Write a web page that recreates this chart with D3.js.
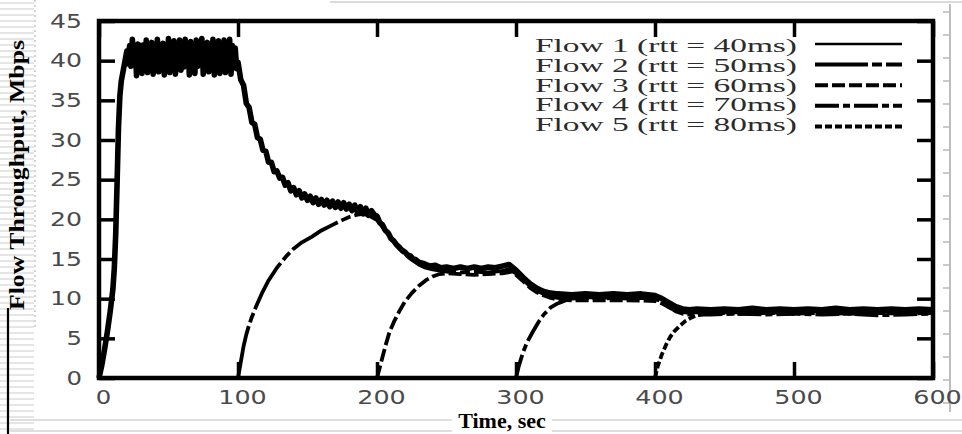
<!DOCTYPE html>
<html>
<head>
<meta charset="utf-8">
<script src="https://cdn.jsdelivr.net/npm/d3@7/dist/d3.min.js"></script>
<style>
  html, body { margin: 0; padding: 0; background: #fff; }
  svg { display: block; }
</style>
</head>
<body>
<svg id="chart" width="962" height="434"></svg>
<script>
// ---------------- data ----------------
const xTicks = [0, 100, 200, 300, 400, 500, 600];
const yTicks = [0, 5, 10, 15, 20, 25, 30, 35, 40, 45];
const flowLabels = [
  "Flow 1 (rtt = 40ms)",
  "Flow 2 (rtt = 50ms)",
  "Flow 3 (rtt = 60ms)",
  "Flow 4 (rtt = 70ms)",
  "Flow 5 (rtt = 80ms)"
];
const xTitle = "Time, sec";
const yTitle = "Flow Throughput, Mbps";

// [time (sec), throughput (Mbps)]
const flow1 = [
  [0,0],[2,1.6],[4,3.6],[6,5.8],[8,8.3],[10,11.2],[11,13.8],[12,18],[13,24.5],[14,31.5],[15,35.5],[16,37.4],[18,39.3],
  [20,41.2],[21,39.6],[22,41.9],[23,39.3],[24,42.7],[25,39.5],[26,41.8],[27,38.1],[28,42.1],[29,39.4],[30,41.9],[31,38.4],
  [32,42.0],[33,39.5],[34,42.6],[35,38.5],[36,41.9],[37,39.4],[38,42.3],[39,38.3],[40,41.8],[41,39.4],[42,42.7],[43,38.6],
  [44,41.9],[45,39.3],[46,42.2],[47,38.2],[48,41.9],[49,39.5],[50,42.8],[51,38.5],[52,41.8],[53,39.3],[54,42.5],[55,38.3],
  [56,42.0],[57,39.4],[58,42.6],[59,38.8],[60,41.9],[61,39.2],[62,42.7],[63,39.4],[64,41.8],[65,38.2],[66,42.4],[67,39.5],
  [68,41.9],[69,38.4],[70,42.6],[71,39.3],[72,41.8],[73,39.5],[74,42.8],[75,38.3],[76,41.9],[77,39.4],[78,42.3],[79,38.6],
  [80,41.8],[81,39.3],[82,42.7],[83,38.2],[84,41.9],[85,39.5],[86,42.5],[87,38.4],[88,42.0],[89,39.3],[90,42.6],[91,38.5],
  [92,41.8],[93,39.4],[94,42.7],[95,38.3],[96,41.9],[97,39.2],[98,41.6],[99,39.0],
  [100,39.8],[102,37.6],[104,36.9],[106,34.6],[108,34.1],[110,32.2],[112,32.0],[114,30.3],[116,30.1],[118,28.7],[120,28.6],
  [122,27.2],[124,27.2],[126,26.0],[128,26.1],[130,25.2],[132,25.3],[134,24.3],[136,24.6],[138,23.6],[140,24.0],[142,23.1],
  [144,23.6],[146,22.7],[148,23.2],[150,22.4],[152,22.9],[154,22.1],[156,22.7],[158,21.9],[160,22.5],[162,21.8],[164,22.4],
  [166,21.6],[168,22.3],[170,21.5],[172,22.2],[174,21.4],[176,22.1],[178,21.3],[180,21.9],[182,21.1],[184,21.8],[186,20.9],
  [188,21.6],[190,20.7],[192,21.4],[194,20.5],[196,21.1],[198,20.6],[200,20.4],[202,19.6],[204,19.3],[206,18.6],[208,18.3],
  [210,17.6],[212,17.3],[214,16.8],[216,16.5],[218,16.1],[220,15.9],[222,15.5],[224,15.4],[226,15.0],[228,14.9],[230,14.6],
  [234,14.4],[238,14.1],[242,14.2],[246,13.9],[250,14.0],[255,13.8],[260,14.0],[265,13.8],[270,14.0],[275,13.8],[280,14.0],
  [285,13.9],[290,14.1],[295,14.3],[300,13.6],[305,12.7],[310,11.9],[315,11.3],[320,10.9],[325,10.7],[330,10.6],[340,10.5],
  [350,10.6],[360,10.5],[370,10.6],[380,10.5],[390,10.6],[400,10.4],[405,10.0],[410,9.5],[415,9.0],[420,8.7],[425,8.6],
  [430,8.7],[440,8.6],[450,8.7],[460,8.6],[470,8.8],[480,8.6],[490,8.7],[500,8.6],[510,8.7],[520,8.6],[530,8.8],[540,8.6],
  [550,8.7],[560,8.6],[570,8.7],[580,8.6],[590,8.7],[600,8.6]
];
const flow2 = [
  [100,0],[102,2.0],[104,4.0],[106,5.5],[108,6.7],[110,7.7],[113,9.0],[117,10.6],[122,12.3],[128,13.9],[135,15.4],[140,16.3],
  [146,17.1],[153,17.8],[160,18.6],[168,19.3],[175,19.9],[180,20.3],[186,20.6],[190,20.7],[195,20.4],[200,19.9],[205,18.8],
  [210,17.6],[215,16.5],[220,15.6],[225,14.9],[230,14.3],[235,13.9],[240,13.7],[250,13.4],[260,13.3],[270,13.4],[280,13.3],
  [290,13.5],[295,13.7],[300,13.2],[305,12.4],[310,11.6],[315,11.0],[320,10.6],[325,10.3],[330,10.1],[340,10.0],[350,10.1],
  [360,10.0],[370,10.1],[380,10.0],[390,10.1],[400,10.0],[405,9.6],[410,9.1],[415,8.6],[420,8.3],[425,8.2],[430,8.3],
  [440,8.2],[460,8.3],[480,8.2],[500,8.3],[520,8.2],[540,8.3],[560,8.2],[580,8.3],[600,8.2]
];
const flow3 = [
  [200,0],[203,2.0],[206,4.0],[209,5.8],[212,7.0],[216,8.4],[220,9.6],[225,10.7],[230,11.6],[235,12.3],[240,12.8],[245,13.1],
  [250,13.2],[260,13.1],[270,13.0],[280,13.1],[290,13.2],[297,13.4],[300,13.0],[305,12.2],[310,11.4],[315,10.8],[320,10.4],
  [325,10.1],[330,9.9],[340,9.8],[360,9.8],[380,9.8],[400,9.7],[405,9.4],[410,8.9],[415,8.5],[420,8.3],[425,8.4],[440,8.4],
  [460,8.5],[480,8.4],[500,8.5],[520,8.4],[540,8.5],[560,8.4],[580,8.5],[600,8.4]
];
const flow4 = [
  [300,0],[302,1.5],[305,3.2],[308,4.5],[312,5.8],[316,7.0],[320,8.0],[325,8.9],[330,9.4],[336,9.8],[342,10.0],[350,10.2],
  [360,10.1],[370,10.2],[380,10.1],[390,10.2],[400,10.1],[405,9.6],[410,9.0],[415,8.4],[420,8.1],[425,8.0],[440,8.0],
  [460,8.1],[480,8.0],[500,8.1],[520,8.0],[540,8.1],[560,7.9],[580,8.0],[600,8.1]
];
const flow5 = [
  [400,0],[402,1.5],[405,3.0],[408,4.2],[411,5.2],[414,5.9],[418,6.6],[422,7.2],[426,7.6],[430,7.9],[436,8.1],[445,8.2],
  [460,8.1],[480,8.2],[500,8.1],[520,8.2],[540,8.1],[560,8.2],[580,8.1],[600,8.2]
];
const flows = [flow1, flow2, flow3, flow4, flow5];

// ---------------- styles ----------------
const dashStyles = [null, "53,4,10,4", "13,4", "24,4,7,4", "7,3"];
const plotWidths = [5.6, 3.8, 3.8, 3.8, 3.8];
const legendWidths = [2.6, 4, 4, 4, 4];

// ---------------- drawing ----------------
const svg = d3.select("#chart");
const W = 962, H = 434;
const x = d3.scaleLinear().domain([0, 600]).range([99, 933]);
const y = d3.scaleLinear().domain([0, 45]).range([378, 21]);

svg.append("rect").attr("width", W).attr("height", H).attr("fill", "#fff");

// page / scan artefacts around the figure
const deco = svg.append("g");
for (let yy = 3; yy < 430; yy += 6) {
  deco.append("line").attr("x1", 0).attr("x2", 34).attr("y1", yy).attr("y2", yy)
    .attr("stroke", "#dcdcdc").attr("stroke-width", 1.5);
}
deco.append("line").attr("x1", 35).attr("x2", 35).attr("y1", 0).attr("y2", 330)
  .attr("stroke", "#c8c8c8").attr("stroke-width", 1.5).attr("stroke-dasharray", "2,3");
deco.append("line").attr("x1", 8).attr("x2", 8).attr("y1", 308).attr("y2", 434)
  .attr("stroke", "#000").attr("stroke-width", 2.2);
[420, 431].forEach(yy => deco.append("line").attr("x1", 10).attr("x2", 962).attr("y1", yy).attr("y2", yy)
  .attr("stroke", "#d4d4d4").attr("stroke-width", 1.5));
deco.append("line").attr("x1", 330).attr("x2", 962).attr("y1", 2).attr("y2", 2)
  .attr("stroke", "#cfcfcf").attr("stroke-width", 1.5);
deco.append("line").attr("x1", 950).attr("x2", 950).attr("y1", 4).attr("y2", 412)
  .attr("stroke", "#a8a8a8").attr("stroke-width", 1.5);
for (let yy = 12; yy < 412; yy += 23) {
  deco.append("line").attr("x1", 943).attr("x2", 950).attr("y1", yy).attr("y2", yy)
    .attr("stroke", "#b8b8b8").attr("stroke-width", 1.5);
}

// axes (inward ticks on all four sides)
const labelLen = s => s.length * 16.5 - 1;
function styleAxis(g) {
  g.select(".domain").remove();
  g.selectAll(".tick line").attr("stroke", "#000").attr("stroke-width", 3.5);
  g.selectAll(".tick text")
    .attr("fill", "#4a4a4a")
    .style("font-family", "'DejaVu Sans', sans-serif")
    .style("font-size", "19px")
    .attr("lengthAdjust", "spacingAndGlyphs");
}
const gx = svg.append("g").attr("transform", "translate(0,378)")
  .call(d3.axisBottom(x).tickValues(xTicks).tickSizeInner(-16).tickSizeOuter(0).tickPadding(13))
  .call(styleAxis);
gx.selectAll(".tick text").each(function () {
  const L = labelLen(this.textContent);
  d3.select(this).attr("text-anchor", "start").attr("x", 4 - L / 2).attr("textLength", L);
});
const gy = svg.append("g").attr("transform", "translate(99,0)")
  .call(d3.axisLeft(y).tickValues(yTicks).tickSizeInner(-16).tickSizeOuter(0).tickPadding(17))
  .call(styleAxis);
gy.selectAll(".tick text").each(function () {
  const L = labelLen(this.textContent);
  d3.select(this).attr("text-anchor", "start").attr("x", -17 - L).attr("textLength", L);
});
svg.append("g").attr("transform", "translate(0,21)")
  .call(d3.axisTop(x).tickValues(xTicks).tickSizeInner(-16).tickSizeOuter(0).tickFormat(() => ""))
  .call(styleAxis);
svg.append("g").attr("transform", "translate(933,0)")
  .call(d3.axisRight(y).tickValues(yTicks).tickSizeInner(-16).tickSizeOuter(0).tickFormat(() => ""))
  .call(styleAxis);

// frame
svg.append("rect").attr("x", 99).attr("y", 21).attr("width", 834).attr("height", 357)
  .attr("fill", "none").attr("stroke", "#000").attr("stroke-width", 4.5);

// flows
const line = d3.line().x(d => x(d[0])).y(d => y(d[1]));
flows.forEach((f, i) => {
  svg.append("path").datum(f).attr("d", line)
    .attr("fill", "none").attr("stroke", "#000").attr("stroke-width", plotWidths[i])
    .attr("stroke-linejoin", "round")
    .attr("stroke-dasharray", dashStyles[i]);
});

// legend
const lg = svg.append("g");
flowLabels.forEach((lab, i) => {
  lg.append("text").attr("x", 535).attr("y", 52 + i * 19.8).text(lab)
    .attr("fill", "#2b2b2b")
    .style("font-family", "'Liberation Serif', 'Times New Roman', serif")
    .style("font-size", "19px")
    .attr("textLength", 262).attr("lengthAdjust", "spacingAndGlyphs");
  lg.append("line").attr("x1", 815).attr("x2", 902)
    .attr("y1", 44 + i * 20.6).attr("y2", 44 + i * 20.6)
    .attr("stroke", "#000").attr("stroke-width", legendWidths[i])
    .attr("stroke-dasharray", dashStyles[i]);
});

// axis titles
svg.append("rect").attr("x", 452).attr("y", 411).attr("width", 100).attr("height", 23).attr("fill", "#fff");
svg.append("text").attr("x", 502).attr("y", 428).attr("text-anchor", "middle").text(xTitle)
  .style("font-family", "'Liberation Serif', 'Times New Roman', serif")
  .style("font-size", "22px").style("font-weight", "bold").attr("fill", "#000");
svg.append("text").attr("transform", "translate(24,175) rotate(-90)").attr("text-anchor", "middle").text(yTitle)
  .style("font-family", "'Liberation Serif', 'Times New Roman', serif")
  .style("font-size", "22px").style("font-weight", "bold").attr("fill", "#000")
  .attr("textLength", 270).attr("lengthAdjust", "spacingAndGlyphs");
</script>
</body>
</html>
